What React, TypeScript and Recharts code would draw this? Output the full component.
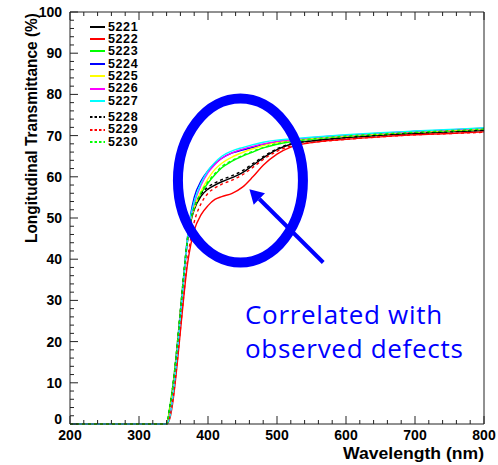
import { LineChart, Line, XAxis, YAxis, Legend, ReferenceDot, ReferenceLine } from "recharts"

const wavelengths = [200, 340, 345, 350, 355, 360, 365, 370, 375, 380, 390, 400, 410, 420, 435, 450, 465, 480, 500, 520, 550, 600, 650, 700, 750, 800]

const s5221 = [0, 0, 4, 10, 18, 27, 36, 44, 49, 52, 55.3, 57, 58, 58.8, 59.8, 61, 62.8, 64.6, 66.6, 67.9, 68.7, 69.5, 70.1, 70.5, 70.9, 71.2]
const s5222 = [0, 0, 1.5, 6.5, 14, 22.5, 31, 38.5, 43.5, 47, 50.8, 53, 54.5, 55.2, 56, 57.5, 60, 62.8, 65.5, 67.2, 68.3, 69.1, 69.7, 70.2, 70.5, 70.9]
const s5223 = [0, 0, 4.5, 10.5, 18.5, 27.5, 36.5, 44.5, 49.5, 52.5, 56, 58.5, 60.5, 62.2, 63.8, 65, 66, 67, 67.9, 68.5, 69.1, 69.8, 70.3, 70.8, 71.1, 71.5]
const s5224 = [0, 0, 2.5, 8.5, 17, 26.5, 36, 45, 51, 55, 59, 61.5, 63.2, 64.5, 65.8, 66.5, 67.1, 67.8, 68.4, 68.8, 69.4, 70, 70.5, 71, 71.3, 71.7]
const s5225 = [0, 0, 3.5, 9.5, 17.5, 27, 36, 44.5, 49.5, 52.5, 56.5, 59.5, 61.8, 63.3, 64.8, 65.9, 66.8, 67.6, 68.3, 68.8, 69.3, 69.9, 70.4, 70.9, 71.2, 71.6]
const s5226 = [0, 0, 2.5, 8.5, 17, 26.5, 35.5, 44, 50, 53.5, 58, 61, 63, 64.5, 65.8, 66.7, 67.4, 68, 68.6, 69, 69.5, 70.1, 70.6, 71, 71.4, 71.8]
const s5227 = [0, 0, 2, 8, 16.5, 26, 35.5, 44.5, 50.5, 54, 58.5, 61.5, 63.5, 65, 66.3, 67.1, 67.8, 68.4, 68.9, 69.2, 69.6, 70.2, 70.7, 71.1, 71.5, 71.9]
const s5228 = [0, 0, 4.5, 10.5, 18.5, 27.5, 36.5, 44.5, 49.5, 52.5, 55.8, 57.5, 58.5, 59.3, 60.3, 61.5, 63.2, 64.9, 66.8, 68, 68.7, 69.5, 70.1, 70.6, 70.9, 71.3]
const s5229 = [0, 0, 2, 7, 14.5, 23, 31.5, 39.5, 45, 49, 53.5, 56, 57.3, 58.2, 59.2, 60.5, 62.3, 64.2, 66.2, 67.5, 68.3, 69.1, 69.7, 70.2, 70.5, 70.8]
const s5230 = [0, 0, 4.5, 10.5, 18.5, 27.5, 36.5, 44.5, 49.5, 52.5, 56.2, 58.8, 60.8, 62.5, 64, 65.2, 66.2, 67.1, 68, 68.6, 69.2, 69.9, 70.4, 70.8, 71.2, 71.6]

const xTicks = [200, 220, 240, 260, 280, 300, 320, 340, 360, 380, 400, 420, 440, 460, 480, 500, 520, 540, 560, 580, 600, 620, 640, 660, 680, 700, 720, 740, 760, 780, 800]
const yTicks = [0, 2, 4, 6, 8, 10, 12, 14, 16, 18, 20, 22, 24, 26, 28, 30, 32, 34, 36, 38, 40, 42, 44, 46, 48, 50, 52, 54, 56, 58, 60, 62, 64, 66, 68, 70, 72, 74, 76, 78, 80, 82, 84, 86, 88, 90, 92, 94, 96, 98, 100]

const series = [
  { key: "5221", values: s5221, color: "#000000", dash: undefined },
  { key: "5222", values: s5222, color: "#ff0000", dash: undefined },
  { key: "5223", values: s5223, color: "#00ff00", dash: undefined },
  { key: "5224", values: s5224, color: "#0000ff", dash: undefined },
  { key: "5225", values: s5225, color: "#ffff00", dash: undefined },
  { key: "5226", values: s5226, color: "#ff00ff", dash: undefined },
  { key: "5227", values: s5227, color: "#00ffff", dash: undefined },
  { key: "5228", values: s5228, color: "#000000", dash: "3 3" },
  { key: "5229", values: s5229, color: "#ff0000", dash: "3 3" },
  { key: "5230", values: s5230, color: "#00ff00", dash: "3 3" },
]

const data = wavelengths.map((w, i) => {
  const row: Record<string, number> = { w }
  series.forEach((s) => (row[s.key] = s.values[i]))
  return row
})

const FONT = "'Liberation Sans', Arial, Helvetica, sans-serif"
const AXIS = "#222"

const BottomTick = ({ x, y, payload }: any) => {
  const major = payload.value % 100 === 0
  return (
    <g>
      <line x1={x} x2={x} y1={y} y2={y - (major ? 8 : 4)} stroke={AXIS} />
      {major && (
        <text x={x} y={y + 16} textAnchor="middle" fontSize={14} fontWeight="bold" fontFamily={FONT} fill="#000">
          {payload.value}
        </text>
      )}
    </g>
  )
}

const TopTick = ({ x, y, payload }: any) => {
  const major = payload.value % 100 === 0
  return <line x1={x} x2={x} y1={y} y2={y + (major ? 8 : 4)} stroke={AXIS} />
}

const LeftTick = ({ x, y, payload }: any) => {
  const major = payload.value % 10 === 0
  return (
    <g>
      <line x1={x} x2={x + (major ? 8 : 4)} y1={y} y2={y} stroke={AXIS} />
      {major && (
        <text x={x - 8} y={payload.value === 0 ? y : y + 5} textAnchor="end" fontSize={14} fontWeight="bold" fontFamily={FONT} fill="#000">
          {payload.value}
        </text>
      )}
    </g>
  )
}

const RightTick = ({ x, y, payload }: any) => {
  const major = payload.value % 10 === 0
  return <line x1={x} x2={x - (major ? 8 : 4)} y1={y} y2={y} stroke={AXIS} />
}

// legend is packed tight in the original, rows ~12.4px apart
const LegendBox = ({ payload }: any) => (
  <div style={{ fontFamily: FONT, fontWeight: "bold", fontSize: 12.5, letterSpacing: 0.6, lineHeight: "12.4px" }}>
    {(payload || []).map((e: any, i: number) => (
      <div key={e.value} style={{ display: "flex", alignItems: "center", height: 12.4, marginTop: i === 7 ? 3.8 : 0 }}>
        <svg width={15} height={4} style={{ marginRight: 3 }}>
          <line x1={0} x2={15} y1={2} y2={2} stroke={e.color} strokeWidth={2} strokeDasharray={e.payload?.strokeDasharray ? "2.5 2" : undefined} />
        </svg>
        <span>{e.value}</span>
      </div>
    ))}
  </div>
)

const Ring = ({ cx, cy }: any) => (
  <ellipse cx={cx} cy={cy} rx={62.5} ry={82} fill="none" stroke="#0000ff" strokeWidth={10} />
)

const Arrow = ({ x1, y1, x2, y2 }: any) => {
  const dx = x2 - x1
  const dy = y2 - y1
  const len = Math.sqrt(dx * dx + dy * dy) || 1
  const ux = dx / len
  const uy = dy / len
  const bx = x2 - ux * 14
  const by = y2 - uy * 14
  return (
    <g>
      <line x1={x1} y1={y1} x2={bx} y2={by} stroke="#0000ff" strokeWidth={4} />
      <polygon points={`${x2},${y2} ${bx - uy * 8},${by + ux * 8} ${bx + uy * 8},${by - ux * 8}`} fill="#0000ff" />
    </g>
  )
}

export default function App() {
  return (
    <div style={{ position: "absolute", left: 0, top: 0, width: 498, height: 465, background: "#fff" }}>
      <LineChart width={498} height={465} data={data} margin={{ top: 11, right: 12, bottom: 0, left: 30 }}>
        <XAxis
          xAxisId="bottom"
          dataKey="w"
          type="number"
          domain={[200, 800]}
          ticks={xTicks}
          interval={0}
          tickSize={0}
          tickMargin={0}
          tickLine={false}
          height={41}
          axisLine={{ stroke: AXIS }}
          tick={<BottomTick />}
          label={(p: any) => (
            <text
              x={p.viewBox.x + p.viewBox.width}
              y={p.viewBox.y + 35}
              textAnchor="end"
              fontSize={17}
              fontWeight="bold"
              fontFamily={FONT}
              fill="#000"
              textLength={141}
              lengthAdjust="spacingAndGlyphs"
            >
              Wavelength (nm)
            </text>
          )}
        />
        <XAxis
          xAxisId="top"
          orientation="top"
          type="number"
          dataKey="w"
          domain={[200, 800]}
          ticks={xTicks}
          interval={0}
          tickSize={0}
          tickMargin={0}
          tickLine={false}
          height={1}
          axisLine={{ stroke: AXIS }}
          tick={<TopTick />}
        />
        <YAxis
          yAxisId="left"
          type="number"
          domain={[0, 100]}
          ticks={yTicks}
          interval={0}
          tickSize={0}
          tickMargin={0}
          tickLine={false}
          width={40}
          axisLine={{ stroke: AXIS }}
          tick={<LeftTick />}
          label={(p: any) => (
            <text
              x={p.viewBox.x + 7}
              y={p.viewBox.y + 1}
              transform={`rotate(-90 ${p.viewBox.x + 7} ${p.viewBox.y + 1})`}
              textAnchor="end"
              fontSize={17}
              fontWeight="bold"
              fontFamily={FONT}
              fill="#000"
              textLength={230}
              lengthAdjust="spacingAndGlyphs"
            >
              Longitudinal Transmittance (%)
            </text>
          )}
        />
        <YAxis
          yAxisId="right"
          orientation="right"
          type="number"
          domain={[0, 100]}
          ticks={yTicks}
          interval={0}
          tickSize={0}
          tickMargin={0}
          tickLine={false}
          width={2}
          axisLine={{ stroke: AXIS }}
          tick={<RightTick />}
        />
        <Legend
          layout="vertical"
          align="center"
          verticalAlign="middle"
          wrapperStyle={{ left: 90, top: 20.5, width: 60 }}
          content={<LegendBox />}
        />
        {series.map((s) => (
          <Line
            key={s.key}
            xAxisId="bottom"
            yAxisId="left"
            type="monotone"
            dataKey={s.key}
            name={s.key}
            stroke={s.color}
            strokeWidth={1.4}
            strokeDasharray={s.dash}
            dot={false}
            isAnimationActive={false}
          />
        ))}
        <ReferenceDot xAxisId="bottom" yAxisId="left" x={447} y={59.1} r={1} shape={<Ring />} />
        <ReferenceLine
          xAxisId="bottom"
          yAxisId="left"
          segment={[
            { x: 567, y: 39.2 },
            { x: 460, y: 57 },
          ]}
          shape={<Arrow />}
        />
      </LineChart>
      <div
        style={{
          position: "absolute",
          left: 245,
          top: 297,
          color: "#0000ff",
          fontFamily: "'Open Sans', sans-serif",
          fontSize: 26,
          lineHeight: "34px",
          letterSpacing: 0.7,
          whiteSpace: "nowrap",
        }}
      >
        Correlated with
        <br />
        observed defects
      </div>
    </div>
  )
}
